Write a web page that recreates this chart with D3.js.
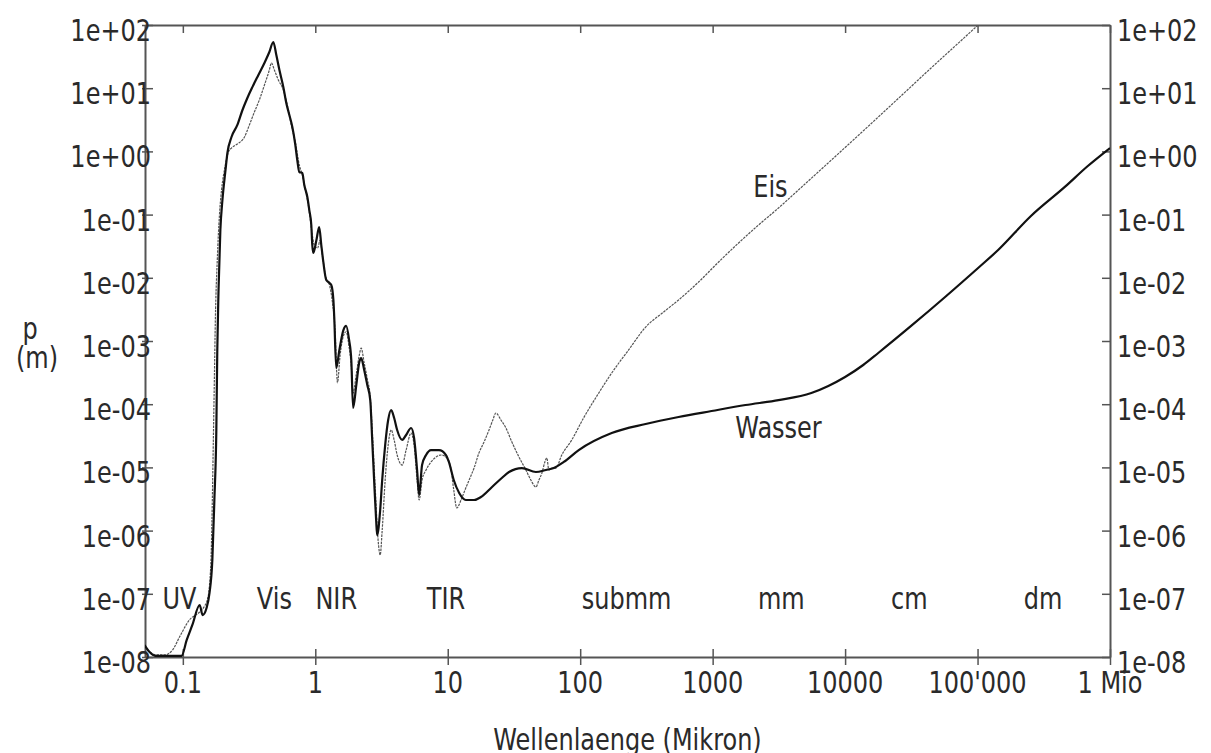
<!DOCTYPE html>
<html>
<head>
<meta charset="utf-8">
<script src="https://cdn.jsdelivr.net/npm/d3@7"></script>
<style>
  body { margin: 0; background: #fff; }
  svg { display: block; }
  text { font-family: "DejaVu Sans", sans-serif; fill: #2a2a2a; }
</style>
</head>
<body>
<svg id="chart" width="1211" height="753"></svg>
<script>
// Penetration depth p (m) of radiation in liquid water and ice vs. wavelength (micron)

const wavelengthTicks = [0.1, 1, 10, 100, 1000, 10000, 1e5, 1e6];
const wavelengthTickLabels = ["0.1", "1", "10", "100", "1000", "10000", "100'000", "1 Mio"];

const depthTicks = [1e-8, 1e-7, 1e-6, 1e-5, 1e-4, 1e-3, 1e-2, 1e-1, 1e0, 1e1, 1e2];
const depthTickLabels = ["1e-08", "1e-07", "1e-06", "1e-05", "1e-04", "1e-03", "1e-02", "1e-01", "1e+00", "1e+01", "1e+02"];

// spectral band names and the wavelength each is centred on
const bandNames = ["UV", "Vis", "NIR", "TIR", "submm", "mm", "cm", "dm"];
const bandCentres = [0.0944, 0.491, 1.44, 9.7, 224, 3300, 30500, 312000];

// [wavelength in micron, penetration depth in m]
const water = [
  [0.0514,1.55e-8],[0.0561,1.2e-8],[0.0622,1.04e-8],[0.0977,1.04e-8],[0.107,1.86e-8],[0.118,3.21e-8],
  [0.134,6.65e-8],[0.141,4.61e-8],[0.151,5.96e-8],[0.159,1.03e-7],[0.167,3.43e-7],[0.173,3.05e-6],
  [0.179,3.91e-5],[0.182,7.21e-4],[0.186,6.41e-3],[0.192,0.057],[0.199,0.17],[0.21,0.508],[0.217,0.944],
  [0.233,1.69],[0.258,2.62],[0.282,4.52],[0.307,7.0],[0.335,10.4],[0.372,16.2],[0.413,25.1],[0.45,37.4],
  [0.482,53.8],[0.508,33.5],[0.536,19.4],[0.574,10.4],[0.604,5.83],[0.637,3.77],[0.671,2.43],[0.707,1.26],
  [0.731,0.731],[0.757,0.472],[0.798,0.455],[0.826,0.294],[0.871,0.19],[0.901,0.118],[0.933,0.0684],
  [0.949,0.033],[0.966,0.0247],[1.02,0.0396],[1.07,0.0637],[1.11,0.033],[1.15,0.0178],[1.21,0.00923],
  [1.28,0.00828],[1.32,0.00769],[1.37,0.00446],[1.39,0.0024],[1.44,3.74e-4],[1.52,7.21e-4],[1.63,1.49e-3],
  [1.71,1.73e-3],[1.80,1.04e-3],[1.87,5.0e-4],[1.93,8.71e-5],[2.04,2.01e-4],[2.15,4.66e-4],[2.22,5.38e-4],
  [2.34,3.48e-4],[2.47,2.01e-4],[2.60,1.16e-4],[2.69,2.72e-5],[2.78,6.32e-6],[2.88,1.47e-6],[2.93,8.51e-7],
  [3.09,2.12e-6],[3.20,6.32e-6],[3.37,2.26e-5],[3.55,5.62e-5],[3.74,8.09e-5],[3.94,6.05e-5],[4.15,3.91e-5],
  [4.53,2.72e-5],[4.85,3.26e-5],[5.29,4.2e-5],[5.57,2.92e-5],[5.87,9.1e-6],[6.08,3.66e-6],[6.40,1.09e-5],
  [6.86,1.57e-5],[7.48,1.88e-5],[8.59,1.88e-5],[9.70,1.57e-5],[10.2,1.22e-5],[11.1,6.32e-6],[12.2,3.94e-6],
  [13.7,3.05e-6],[15.8,3.05e-6],[17.8,3.4e-6],[21.6,4.9e-6],[25.6,6.79e-6],[29.0,8.45e-6],[36.3,9.77e-6],
  [46.3,8.45e-6],[55.1,9.1e-6],[63.2,9.77e-6],[75.2,1.22e-5],[97.5,1.88e-5],[173,3.5e-5],[312,4.86e-5],
  [553,6.27e-5],[981,7.8e-5],[1770,9.7e-5],[3140,1.16e-4],[5560,1.5e-4],[7470,1.94e-4],[10000,2.69e-4],
  [13700,4.17e-4],[17800,6.46e-4],[31500,1.73e-3],[56900,4.97e-3],[101000,0.0143],[143000,0.0275],
  [253000,0.0951],[456000,0.274],[680000,0.587],[1000000,1.13]
];

const ice = [
  [0.0514,1.39e-8],[0.0561,1.2e-8],[0.0633,1.08e-8],[0.0728,1.08e-8],[0.0836,1.29e-8],[0.0944,2.07e-8],
  [0.112,3.85e-8],[0.134,5.15e-8],[0.146,6.41e-8],[0.153,7.98e-8],[0.159,1.38e-7],[0.164,4.93e-7],
  [0.167,3.05e-6],[0.170,2.72e-5],[0.173,2.42e-4],[0.176,2.15e-3],[0.182,0.0191],[0.189,0.0986],
  [0.196,0.245],[0.206,0.508],[0.221,0.977],[0.233,1.13],[0.258,1.31],[0.292,1.69],[0.318,2.62],
  [0.347,4.2],[0.378,6.5],[0.413,11.2],[0.45,19.4],[0.466,25.1],[0.491,19.4],[0.526,13.5],[0.574,9.37],
  [0.615,5.42],[0.659,2.62],[0.707,1.41],[0.757,0.61],[0.798,0.424],[0.841,0.245],[0.886,0.142],
  [0.917,0.0822],[0.949,0.0475],[0.983,0.033],[1.04,0.0296],[1.09,0.0396],[1.13,0.023],[1.19,0.0111],
  [1.28,0.00769],[1.34,0.00446],[1.41,1.5e-3],[1.47,2.2e-4],[1.54,6e-4],[1.63,1.2e-3],[1.71,1.4e-3],
  [1.80,8e-4],[1.87,4e-4],[1.93,1.5e-4],[2.04,3e-4],[2.15,6e-4],[2.22,7.7e-4],[2.34,4.5e-4],[2.47,2.5e-4],
  [2.60,1.3e-4],[2.69,4e-5],[2.83,5e-6],[2.98,7.1e-7],[3.09,4.11e-7],[3.20,1.02e-6],[3.37,6.32e-6],
  [3.55,2.26e-5],[3.74,3.91e-5],[3.94,2.72e-5],[4.15,1.57e-5],[4.53,1.09e-5],[4.85,1.88e-5],[5.29,3.5e-5],
  [5.57,2.26e-5],[5.87,6.32e-6],[6.08,3.05e-6],[6.40,6.32e-6],[6.86,9.1e-6],[7.48,1.22e-5],[8.16,1.46e-5],
  [8.91,1.57e-5],[9.88,1.41e-5],[10.6,9.1e-6],[11.1,4.4e-6],[11.7,2.28e-6],[12.6,3.05e-6],[13.5,4.4e-6],
  [14.5,6.32e-6],[15.8,9.77e-6],[17.2,1.69e-5],[18.8,2.52e-5],[20.5,3.91e-5],[21.9,5.62e-5],[23.1,7.26e-5],
  [25.2,5.62e-5],[27.5,4.2e-5],[30.5,2.52e-5],[34.5,1.46e-5],[38.9,9.1e-6],[42.4,6.32e-6],[46.3,4.9e-6],
  [48.8,6.32e-6],[51.4,8.15e-6],[54.1,1.22e-5],[56.0,1.41e-5],[58.0,9.1e-6],[61.1,9.77e-6],[65.5,9.77e-6],
  [72.6,1.57e-5],[86.4,2.72e-5],[106,6.05e-5],[138,1.5e-4],[173,3.12e-4],[232,7.21e-4],[312,1.66e-3],
  [427,2.88e-3],[553,4.46e-3],[783,8.57e-3],[1110,0.0178],[1570,0.0356],[2220,0.0684],[3140,0.127],
  [4440,0.245],[14200,2.26],[25200,6.87],[44600,20.9],[71300,51.3],[101000,100]
];

// series name labels: [text, wavelength, depth at baseline]
const seriesLabels = [["Eis", 2730, 0.19], ["Wasser", 3140, 2.9e-5]];

const svg = d3.select("#chart");
const W = 1211, H = 753;
const margin = { left: 145, right: W - 1110, top: 25, bottom: H - 657 };
const fontSize = 24, stretch = 1.28;
const frameColor = "#555";

const x = d3.scaleLog().domain([0.0518, 1e6]).range([margin.left, W - margin.right]);
const y = d3.scaleLog().domain([1e-8, 1e2]).range([H - margin.bottom, margin.top]);

function label(g, str, px, py, anchor) {
  return g.append("text")
    .attr("transform", `translate(${px},${py}) scale(1,${stretch})`)
    .attr("text-anchor", anchor || "middle")
    .style("font-size", fontSize + "px")
    .text(str);
}

// axes (tick marks only; labels are placed separately)
function styleAxis(g) {
  g.selectAll("text").remove();
  g.select(".domain").attr("stroke", frameColor).attr("stroke-width", 2);
  g.selectAll(".tick line").attr("stroke", frameColor).attr("stroke-width", 1.5);
}

const gBottom = svg.append("g").attr("transform", `translate(0,${y.range()[0]})`)
  .call(d3.axisBottom(x).tickValues(wavelengthTicks).tickSizeOuter(0).tickSizeInner(8)).call(styleAxis);
gBottom.selectAll(".tick line").attr("y1", -8).attr("y2", 8);

svg.append("g").attr("transform", `translate(0,${y.range()[1]})`)
  .call(d3.axisTop(x).tickValues(wavelengthTicks).tickSizeOuter(0).tickSizeInner(-8)).call(styleAxis);

const gLeft = svg.append("g").attr("transform", `translate(${x.range()[0]},0)`)
  .call(d3.axisLeft(y).tickValues(depthTicks).tickSizeOuter(0).tickSizeInner(3)).call(styleAxis);
gLeft.selectAll(".tick line").attr("x1", -3).attr("x2", 8);

svg.append("g").attr("transform", `translate(${x.range()[1]},0)`)
  .call(d3.axisRight(y).tickValues(depthTicks).tickSizeOuter(0).tickSizeInner(-8)).call(styleAxis);

// tick labels
const labels = svg.append("g");
wavelengthTicks.forEach((v, i) => label(labels, wavelengthTickLabels[i], x(v), 693));
depthTicks.forEach((v, i) => {
  label(labels, depthTickLabels[i], x.range()[0] + 6, y(v) + 16, "end");
  label(labels, depthTickLabels[i], x.range()[1] + 7, y(v) + 16, "start");
});

// axis titles
label(labels, "Wellenlaenge (Mikron)", (x.range()[0] + x.range()[1]) / 2, 750);
label(labels, "p", 30, 339);
label(labels, "(m)", 37, 368);

// band names
bandNames.forEach((b, i) => label(labels, b, x(bandCentres[i]), y(1e-7) + 15));

// curves
svg.append("clipPath").attr("id", "plotArea").append("rect")
  .attr("x", margin.left).attr("y", margin.top)
  .attr("width", x.range()[1] - x.range()[0]).attr("height", y.range()[0] - y.range()[1]);

const line = d3.line().x(d => x(d[0])).y(d => y(d[1])).curve(d3.curveMonotoneX);
const plot = svg.append("g").attr("clip-path", "url(#plotArea)");

plot.append("path").datum(ice).attr("d", line)
  .attr("fill", "none").attr("stroke", "#555").attr("stroke-width", 1.2)
  .attr("stroke-dasharray", "2.5,1").attr("stroke-linejoin", "round");

plot.append("path").datum(water).attr("d", line)
  .attr("fill", "none").attr("stroke", "#111").attr("stroke-width", 2.2)
  .attr("stroke-linejoin", "round");

// series names
seriesLabels.forEach(([t, lx, ly]) => label(labels, t, x(lx), y(ly)));
</script>
</body>
</html>
